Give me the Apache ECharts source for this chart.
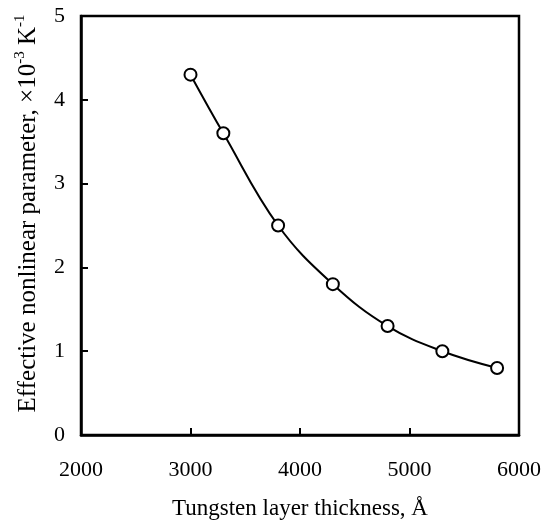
<!DOCTYPE html>
<html>
<head>
<meta charset="utf-8">
<script src="https://cdn.jsdelivr.net/npm/echarts@6/dist/echarts.min.js"></script>
<style>
html,body{margin:0;padding:0;background:#fff;}
#chart{width:548px;height:525px;}
</style>
</head>
<body>
<div id="chart"></div>
<script>
var thickness = [3000, 3300, 3800, 4300, 4800, 5300, 5800];
var nonlinearParam = [4.3, 3.6, 2.5, 1.8, 1.3, 1.0, 0.8];
var xTicks = [2000, 3000, 4000, 5000, 6000];
var yTicks = [0, 1, 2, 3, 4, 5];

var FONT = "'Liberation Serif', 'Times New Roman', serif";
var points = thickness.map(function (x, i) { return [x, nonlinearParam[i]]; });

var chart = echarts.init(document.getElementById('chart'), null, {renderer: 'canvas'});
chart.setOption({
  animation: false,
  backgroundColor: '#fff',
  grid: {
    left: 81, right: 29, top: 16, bottom: 89,
    show: true, borderColor: '#000', borderWidth: 2.5, backgroundColor: 'transparent'
  },
  xAxis: {
    type: 'value',
    min: xTicks[0], max: xTicks[xTicks.length - 1], interval: 1000,
    name: 'Tungsten layer thickness, Å',
    nameLocation: 'middle', nameGap: 62,
    nameTextStyle: {fontFamily: FONT, fontSize: 23, color: '#000'},
    axisLine: {show: true, lineStyle: {color: '#000', width: 2.5}},
    axisTick: {show: true, inside: true, length: 7, lineStyle: {color: '#000', width: 2}},
    axisLabel: {fontFamily: FONT, fontSize: 22, color: '#000', margin: 24,
      formatter: function (v) { return String(v); }},
    splitLine: {show: false}
  },
  yAxis: {
    type: 'value',
    min: yTicks[0], max: yTicks[yTicks.length - 1], interval: 1,
    name: 'Effective nonlinear parameter, ×10{sup|-3} K{sup|-1}',
    nameLocation: 'middle', nameGap: 38,
    nameTextStyle: {
      fontFamily: FONT, fontSize: 25, color: '#000', lineHeight: 30,
      padding: [0, 0, 0, 24],
      rich: {
        sup: {fontFamily: FONT, fontSize: 15, color: '#000', lineHeight: 15, verticalAlign: 'top'}
      }
    },
    axisLine: {show: true, lineStyle: {color: '#000', width: 2.5}},
    axisTick: {show: true, inside: true, length: 7, lineStyle: {color: '#000', width: 2}},
    axisLabel: {fontFamily: FONT, fontSize: 22, color: '#000', margin: 16},
    splitLine: {show: false}
  },
  series: [{
    type: 'line',
    data: points,
    smooth: 0.4,
    symbol: 'circle',
    symbolSize: 12,
    showAllSymbol: true,
    lineStyle: {color: '#000', width: 2},
    itemStyle: {color: '#fff', borderColor: '#000', borderWidth: 2},
    z: 3
  }]
});
</script>
</body>
</html>
